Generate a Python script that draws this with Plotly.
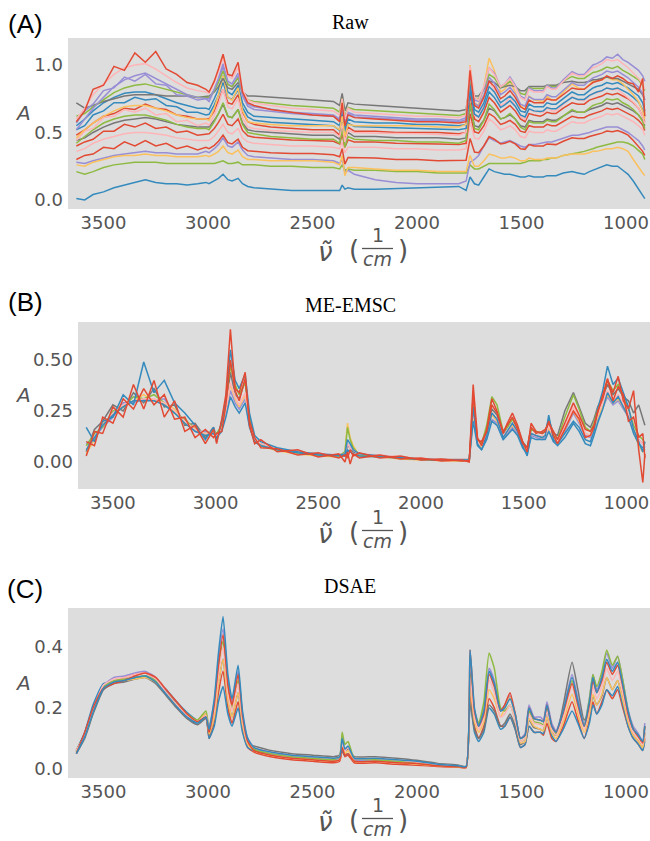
import plotly.graph_objects as go

# wavenumber grid (1/cm), shared by all three panels
wavenumber = [3630, 3590, 3550, 3500, 3450, 3400, 3350, 3300, 3250, 3200, 3150, 3100, 3050, 3010,
              2995, 2970, 2950, 2928, 2905, 2885, 2856, 2835, 2810,
              2780, 2700, 2600, 2500, 2400, 2370, 2358, 2345, 2330, 2300, 2200, 2100, 2000, 1900, 1800, 1765,
              1746, 1725, 1705, 1680, 1655, 1630, 1600, 1580, 1555, 1530, 1505, 1483, 1464, 1440, 1410, 1395,
              1378, 1355, 1335, 1300, 1258, 1230, 1200, 1175, 1158, 1140, 1115, 1092, 1065, 1040, 1015, 990,
              965, 940, 920, 910]

# (A) raw spectra
raw_spectra = [
    [0.01, 0.0, 0.04, 0.06, 0.09, 0.11, 0.13, 0.15, 0.13, 0.12, 0.12, 0.11, 0.12, 0.13,
     0.12, 0.14, 0.16, 0.19, 0.15, 0.14, 0.16, 0.12, 0.10,
     0.09, 0.08, 0.07, 0.07, 0.07, 0.07, 0.11, 0.08, 0.09, 0.08, 0.08, 0.085, 0.09, 0.095, 0.10, 0.07,
     0.17, 0.12, 0.11, 0.17, 0.23, 0.21, 0.20, 0.19, 0.19, 0.18, 0.17, 0.17, 0.18, 0.17, 0.17, 0.17, 0.18, 0.18,
     0.18, 0.20, 0.21, 0.20, 0.19, 0.21, 0.22, 0.23, 0.25, 0.26, 0.25, 0.25, 0.22, 0.19, 0.14, 0.08, 0.03, 0.01],
    [0.21, 0.19, 0.21, 0.24, 0.26, 0.27, 0.28, 0.28, 0.28, 0.27, 0.27, 0.27, 0.27, 0.27,
     0.27, 0.27, 0.28, 0.29, 0.27, 0.27, 0.28, 0.26, 0.26,
     0.26, 0.25, 0.25, 0.24, 0.24, 0.23, 0.26, 0.22, 0.23, 0.22, 0.22, 0.21, 0.21, 0.20, 0.20, 0.20,
     0.26, 0.23, 0.23, 0.25, 0.27, 0.27, 0.27, 0.27, 0.27, 0.27, 0.27, 0.28, 0.29, 0.29, 0.29, 0.30, 0.30, 0.31,
     0.31, 0.33, 0.34, 0.35, 0.36, 0.37, 0.38, 0.39, 0.40, 0.41, 0.42, 0.43, 0.43, 0.42, 0.40, 0.37, 0.34, 0.30],
    [0.28, 0.27, 0.29, 0.31, 0.33, 0.34, 0.35, 0.36, 0.35, 0.35, 0.34, 0.34, 0.34, 0.36,
     0.35, 0.38, 0.41, 0.46, 0.40, 0.39, 0.43, 0.37, 0.33,
     0.32, 0.31, 0.30, 0.30, 0.29, 0.27, 0.30, 0.20, 0.22, 0.19, 0.15, 0.13, 0.12, 0.12, 0.12, 0.14,
     0.28, 0.30, 0.33, 0.40, 0.46, 0.44, 0.42, 0.43, 0.44, 0.42, 0.40, 0.39, 0.41, 0.41, 0.42, 0.42, 0.43, 0.43,
     0.44, 0.46, 0.48, 0.48, 0.49, 0.50, 0.51, 0.52, 0.53, 0.54, 0.54, 0.54, 0.52, 0.50, 0.47, 0.44, 0.40, 0.37],
    [0.26, 0.25, 0.28, 0.30, 0.32, 0.33, 0.33, 0.34, 0.33, 0.33, 0.32, 0.32, 0.32, 0.33,
     0.32, 0.34, 0.36, 0.40, 0.35, 0.34, 0.37, 0.32, 0.30,
     0.30, 0.29, 0.29, 0.29, 0.28, 0.26, 0.33, 0.18, 0.24, 0.24, 0.23, 0.22, 0.22, 0.21, 0.21, 0.21,
     0.33, 0.25, 0.25, 0.29, 0.34, 0.33, 0.31, 0.31, 0.32, 0.31, 0.29, 0.29, 0.31, 0.30, 0.30, 0.30, 0.31, 0.31,
     0.31, 0.33, 0.34, 0.34, 0.34, 0.35, 0.36, 0.36, 0.37, 0.38, 0.38, 0.39, 0.38, 0.36, 0.30, 0.24, 0.20, 0.18],
    [0.30, 0.33, 0.34, 0.39, 0.38, 0.43, 0.40, 0.44, 0.40, 0.42, 0.38, 0.40, 0.37, 0.39,
     0.38, 0.405, 0.435, 0.48, 0.425, 0.415, 0.45, 0.39, 0.365,
     0.36, 0.35, 0.345, 0.345, 0.335, 0.32, 0.38, 0.265, 0.315, 0.315, 0.31, 0.30, 0.30, 0.29, 0.29, 0.295,
     0.455, 0.355, 0.35, 0.40, 0.47, 0.45, 0.415, 0.42, 0.435, 0.415, 0.38, 0.375, 0.41, 0.40, 0.40, 0.40, 0.415,
     0.41, 0.41, 0.435, 0.46, 0.455, 0.455, 0.47, 0.48, 0.485, 0.495, 0.51, 0.505, 0.515, 0.50, 0.48, 0.44, 0.395,
     0.36, 0.33],
    [0.36, 0.38, 0.42, 0.45, 0.47, 0.49, 0.50, 0.50, 0.49, 0.48, 0.46, 0.45, 0.44, 0.44,
     0.44, 0.47, 0.51, 0.56, 0.50, 0.49, 0.53, 0.46, 0.43,
     0.42, 0.41, 0.40, 0.40, 0.39, 0.38, 0.43, 0.35, 0.39, 0.39, 0.39, 0.38, 0.38, 0.37, 0.37, 0.38,
     0.58, 0.46, 0.45, 0.51, 0.60, 0.57, 0.52, 0.53, 0.55, 0.52, 0.47, 0.46, 0.51, 0.50, 0.50, 0.50, 0.52, 0.51,
     0.51, 0.54, 0.58, 0.57, 0.57, 0.59, 0.60, 0.61, 0.62, 0.64, 0.63, 0.64, 0.62, 0.60, 0.58, 0.55, 0.52, 0.48],
    [0.40, 0.43, 0.45, 0.51, 0.51, 0.56, 0.54, 0.57, 0.53, 0.54, 0.50, 0.51, 0.48, 0.49,
     0.49, 0.53, 0.575, 0.635, 0.56, 0.55, 0.60, 0.515, 0.475,
     0.465, 0.455, 0.445, 0.44, 0.435, 0.415, 0.49, 0.39, 0.445, 0.43, 0.43, 0.42, 0.42, 0.415, 0.41, 0.42,
     0.64, 0.505, 0.495, 0.55, 0.64, 0.615, 0.56, 0.57, 0.59, 0.56, 0.51, 0.50, 0.55, 0.54, 0.54, 0.54, 0.56,
     0.55, 0.55, 0.58, 0.62, 0.61, 0.61, 0.63, 0.64, 0.65, 0.66, 0.68, 0.67, 0.68, 0.66, 0.64, 0.62, 0.59,
     0.555, 0.515],
    [0.44, 0.46, 0.50, 0.54, 0.57, 0.59, 0.60, 0.61, 0.60, 0.58, 0.56, 0.55, 0.54, 0.54,
     0.54, 0.59, 0.64, 0.71, 0.62, 0.61, 0.67, 0.57, 0.52,
     0.51, 0.50, 0.49, 0.48, 0.48, 0.45, 0.55, 0.43, 0.50, 0.47, 0.47, 0.46, 0.46, 0.46, 0.45, 0.46,
     0.70, 0.55, 0.54, 0.59, 0.68, 0.66, 0.60, 0.61, 0.63, 0.60, 0.55, 0.54, 0.59, 0.58, 0.58, 0.58, 0.60, 0.59,
     0.59, 0.62, 0.66, 0.65, 0.65, 0.67, 0.68, 0.69, 0.70, 0.72, 0.71, 0.72, 0.70, 0.68, 0.66, 0.63, 0.59, 0.55],
    [0.42, 0.47, 0.52, 0.57, 0.60, 0.62, 0.63, 0.63, 0.61, 0.59, 0.56, 0.54, 0.53, 0.53,
     0.52, 0.58, 0.64, 0.72, 0.62, 0.61, 0.67, 0.56, 0.50,
     0.49, 0.47, 0.46, 0.45, 0.45, 0.42, 0.52, 0.39, 0.47, 0.45, 0.44, 0.44, 0.43, 0.43, 0.42, 0.44,
     0.72, 0.53, 0.52, 0.59, 0.71, 0.67, 0.60, 0.61, 0.64, 0.60, 0.54, 0.52, 0.58, 0.57, 0.57, 0.57, 0.59, 0.58,
     0.58, 0.62, 0.67, 0.65, 0.65, 0.68, 0.70, 0.71, 0.72, 0.75, 0.74, 0.75, 0.72, 0.70, 0.67, 0.63, 0.58, 0.53],
    [0.48, 0.52, 0.57, 0.62, 0.64, 0.68, 0.67, 0.71, 0.68, 0.67, 0.63, 0.62, 0.60, 0.60,
     0.60, 0.66, 0.73, 0.82, 0.72, 0.71, 0.78, 0.65, 0.58,
     0.56, 0.54, 0.53, 0.52, 0.52, 0.48, 0.60, 0.46, 0.54, 0.51, 0.51, 0.50, 0.50, 0.50, 0.49, 0.50,
     0.78, 0.60, 0.58, 0.65, 0.76, 0.72, 0.65, 0.67, 0.70, 0.66, 0.60, 0.58, 0.64, 0.63, 0.62, 0.63, 0.65, 0.64,
     0.64, 0.68, 0.72, 0.71, 0.71, 0.74, 0.75, 0.76, 0.77, 0.79, 0.78, 0.79, 0.77, 0.75, 0.72, 0.68, 0.62, 0.58],
    [0.44, 0.51, 0.53, 0.61, 0.62, 0.67, 0.65, 0.68, 0.63, 0.64, 0.58, 0.59, 0.55, 0.57,
     0.555, 0.63, 0.71, 0.82, 0.69, 0.675, 0.75, 0.61, 0.54,
     0.53, 0.515, 0.505, 0.50, 0.50, 0.47, 0.57, 0.43, 0.515, 0.50, 0.495, 0.495, 0.49, 0.485, 0.48, 0.50,
     0.86, 0.625, 0.61, 0.715, 0.88, 0.815, 0.70, 0.715, 0.76, 0.70, 0.62, 0.595, 0.675, 0.655, 0.65, 0.65, 0.68,
     0.66, 0.66, 0.71, 0.765, 0.74, 0.735, 0.77, 0.79, 0.795, 0.805, 0.83, 0.815, 0.82, 0.79, 0.76, 0.725, 0.68,
     0.62, 0.565],
    [0.52, 0.55, 0.63, 0.66, 0.72, 0.72, 0.76, 0.74, 0.75, 0.70, 0.69, 0.65, 0.65, 0.63,
     0.635, 0.705, 0.775, 0.87, 0.76, 0.745, 0.815, 0.685, 0.615,
     0.59, 0.575, 0.565, 0.555, 0.55, 0.515, 0.635, 0.49, 0.57, 0.545, 0.54, 0.535, 0.53, 0.53, 0.52, 0.53,
     0.82, 0.635, 0.615, 0.685, 0.80, 0.76, 0.685, 0.705, 0.735, 0.695, 0.63, 0.615, 0.675, 0.66, 0.655, 0.66,
     0.685, 0.675, 0.675, 0.715, 0.76, 0.745, 0.745, 0.775, 0.79, 0.80, 0.81, 0.83, 0.82, 0.83, 0.81, 0.79, 0.76,
     0.725, 0.67, 0.62],
    [0.55, 0.60, 0.66, 0.72, 0.76, 0.79, 0.80, 0.80, 0.78, 0.75, 0.72, 0.70, 0.68, 0.68,
     0.67, 0.75, 0.82, 0.92, 0.80, 0.78, 0.85, 0.72, 0.65,
     0.62, 0.61, 0.60, 0.59, 0.58, 0.55, 0.67, 0.52, 0.60, 0.58, 0.57, 0.57, 0.56, 0.56, 0.55, 0.56,
     0.86, 0.67, 0.65, 0.72, 0.84, 0.80, 0.72, 0.74, 0.77, 0.73, 0.66, 0.65, 0.71, 0.69, 0.69, 0.69, 0.72, 0.71,
     0.71, 0.75, 0.80, 0.78, 0.78, 0.81, 0.83, 0.84, 0.85, 0.87, 0.86, 0.87, 0.85, 0.83, 0.80, 0.77, 0.72, 0.66],
    [0.46, 0.52, 0.57, 0.62, 0.66, 0.69, 0.70, 0.70, 0.68, 0.66, 0.63, 0.61, 0.60, 0.60,
     0.59, 0.68, 0.78, 0.92, 0.76, 0.74, 0.83, 0.66, 0.58,
     0.57, 0.56, 0.55, 0.55, 0.55, 0.52, 0.62, 0.47, 0.56, 0.55, 0.55, 0.55, 0.55, 0.54, 0.54, 0.56,
     1.00, 0.72, 0.70, 0.84, 1.05, 0.96, 0.80, 0.82, 0.88, 0.80, 0.70, 0.67, 0.77, 0.74, 0.73, 0.73, 0.77, 0.74,
     0.74, 0.80, 0.86, 0.83, 0.82, 0.86, 0.88, 0.88, 0.89, 0.91, 0.89, 0.89, 0.86, 0.82, 0.78, 0.73, 0.66, 0.60],
    [0.72, 0.68, 0.70, 0.73, 0.75, 0.77, 0.78, 0.78, 0.78, 0.77, 0.77, 0.77, 0.76, 0.77,
     0.77, 0.80, 0.84, 0.90, 0.83, 0.82, 0.87, 0.80, 0.77,
     0.77, 0.76, 0.75, 0.74, 0.73, 0.70, 0.79, 0.66, 0.72, 0.71, 0.70, 0.69, 0.68, 0.67, 0.66, 0.67,
     0.88, 0.77, 0.77, 0.82, 0.88, 0.87, 0.83, 0.84, 0.85, 0.84, 0.81, 0.81, 0.84, 0.84, 0.84, 0.84, 0.85, 0.85,
     0.85, 0.87, 0.88, 0.87, 0.87, 0.88, 0.89, 0.89, 0.90, 0.91, 0.90, 0.90, 0.88, 0.86, 0.84, 0.82, 0.78, 0.74],
    [0.57, 0.66, 0.71, 0.81, 0.83, 0.91, 0.88, 0.93, 0.86, 0.85, 0.78, 0.77, 0.74, 0.75,
     0.73, 0.81, 0.885, 0.985, 0.86, 0.84, 0.915, 0.77, 0.695,
     0.67, 0.655, 0.64, 0.63, 0.62, 0.59, 0.71, 0.56, 0.64, 0.615, 0.605, 0.60, 0.59, 0.59, 0.58, 0.595,
     0.925, 0.715, 0.695, 0.78, 0.91, 0.865, 0.78, 0.80, 0.835, 0.785, 0.71, 0.695, 0.765, 0.745, 0.745, 0.745,
     0.78, 0.765, 0.765, 0.815, 0.87, 0.85, 0.85, 0.885, 0.905, 0.915, 0.93, 0.955, 0.945, 0.955, 0.93, 0.905,
     0.87, 0.835, 0.79, 0.74],
    [0.62, 0.64, 0.69, 0.745, 0.795, 0.83, 0.85, 0.86, 0.84, 0.815, 0.795, 0.775, 0.76, 0.76,
     0.76, 0.81, 0.87, 0.955, 0.855, 0.84, 0.905, 0.795, 0.74,
     0.73, 0.715, 0.70, 0.69, 0.68, 0.65, 0.75, 0.615, 0.685, 0.67, 0.66, 0.65, 0.64, 0.635, 0.625, 0.64,
     0.905, 0.755, 0.75, 0.825, 0.93, 0.905, 0.835, 0.85, 0.88, 0.845, 0.79, 0.78, 0.835, 0.825, 0.825, 0.825,
     0.85, 0.84, 0.84, 0.88, 0.915, 0.90, 0.90, 0.925, 0.945, 0.95, 0.965, 0.985, 0.975, 0.99, 0.96, 0.94,
     0.915, 0.89, 0.85, 0.81],
    [0.52, 0.60, 0.68, 0.76, 0.84, 0.89, 0.92, 0.94, 0.90, 0.86, 0.82, 0.78, 0.76, 0.75,
     0.75, 0.82, 0.90, 1.01, 0.88, 0.86, 0.94, 0.79, 0.71,
     0.69, 0.67, 0.65, 0.64, 0.63, 0.60, 0.71, 0.57, 0.65, 0.63, 0.62, 0.61, 0.60, 0.60, 0.59, 0.61,
     0.93, 0.74, 0.73, 0.83, 0.98, 0.94, 0.84, 0.86, 0.91, 0.85, 0.77, 0.75, 0.83, 0.81, 0.81, 0.81, 0.85, 0.83,
     0.83, 0.89, 0.95, 0.93, 0.93, 0.97, 1.00, 1.01, 1.03, 1.06, 1.05, 1.08, 1.04, 1.02, 0.99, 0.96, 0.92, 0.88],
    [0.60, 0.68, 0.78, 0.86, 0.93, 0.98, 1.00, 1.01, 0.97, 0.92, 0.87, 0.83, 0.81, 0.80,
     0.79, 0.87, 0.95, 1.05, 0.92, 0.90, 0.98, 0.82, 0.74,
     0.72, 0.70, 0.68, 0.67, 0.66, 0.63, 0.75, 0.60, 0.68, 0.65, 0.64, 0.63, 0.62, 0.62, 0.61, 0.63,
     0.99, 0.76, 0.74, 0.84, 0.98, 0.93, 0.84, 0.86, 0.90, 0.84, 0.76, 0.74, 0.82, 0.80, 0.80, 0.80, 0.84, 0.82,
     0.82, 0.88, 0.94, 0.92, 0.92, 0.96, 0.98, 0.99, 1.01, 1.04, 1.03, 1.04, 1.01, 0.98, 0.94, 0.90, 0.86, 0.82],
    [0.58, 0.66, 0.82, 0.85, 0.99, 0.96, 1.09, 1.02, 1.10, 0.97, 0.93, 0.87, 0.85, 0.82,
     0.80, 0.88, 0.97, 1.08, 0.93, 0.92, 1.02, 0.80, 0.72,
     0.70, 0.67, 0.65, 0.63, 0.62, 0.58, 0.72, 0.55, 0.63, 0.61, 0.60, 0.59, 0.58, 0.58, 0.57, 0.58,
     0.96, 0.70, 0.68, 0.76, 0.88, 0.84, 0.75, 0.77, 0.81, 0.76, 0.69, 0.67, 0.74, 0.72, 0.72, 0.72, 0.75, 0.74,
     0.74, 0.78, 0.83, 0.82, 0.82, 0.85, 0.87, 0.88, 0.89, 0.92, 0.90, 0.92, 0.90, 0.87, 0.86, 0.80, 0.90, 0.62],
]

# (B) ME-EMSC corrected spectra
emsc_spectra = [
    [0.05, 0.16, 0.20, 0.28, 0.25, 0.34, 0.29, 0.36, 0.27, 0.28, 0.18, 0.19, 0.12, 0.17,
     0.12, 0.19, 0.26, 0.44, 0.33, 0.31, 0.40, 0.21, 0.10,
     0.09, 0.055, 0.05, 0.03, 0.035, 0.03, 0.08, 0.07, 0.05, 0.04, 0.03, 0.025, 0.015, 0.012, 0.01, 0.012,
     0.24, 0.11, 0.09, 0.15, 0.26, 0.23, 0.14, 0.17, 0.21, 0.17, 0.10, 0.07, 0.16, 0.15, 0.14, 0.15, 0.21, 0.14,
     0.13, 0.25, 0.34, 0.27, 0.19, 0.17, 0.21, 0.27, 0.32, 0.38, 0.33, 0.36, 0.32, 0.30, 0.24, 0.28, 0.22, 0.18],
    [0.09, 0.12, 0.17, 0.22, 0.29, 0.29, 0.31, 0.30, 0.31, 0.24, 0.21, 0.15, 0.15, 0.14,
     0.13, 0.16, 0.23, 0.35, 0.29, 0.26, 0.31, 0.18, 0.10,
     0.08, 0.06, 0.045, 0.035, 0.03, 0.04, 0.09, 0.07, 0.06, 0.035, 0.03, 0.02, 0.012, 0.01, 0.008, 0.01,
     0.22, 0.09, 0.07, 0.12, 0.21, 0.19, 0.11, 0.14, 0.17, 0.14, 0.08, 0.05, 0.13, 0.12, 0.11, 0.12, 0.16, 0.10,
     0.09, 0.15, 0.24, 0.19, 0.13, 0.12, 0.16, 0.21, 0.26, 0.32, 0.28, 0.30, 0.26, 0.22, 0.15, 0.11, 0.09, 0.07],
    [0.04, 0.11, 0.19, 0.23, 0.27, 0.30, 0.33, 0.30, 0.29, 0.26, 0.19, 0.17, 0.13, 0.16,
     0.12, 0.17, 0.25, 0.38, 0.31, 0.27, 0.33, 0.19, 0.10,
     0.08, 0.055, 0.04, 0.03, 0.025, 0.05, 0.19, 0.12, 0.08, 0.03, 0.025, 0.015, 0.01, 0.006, 0.004, 0.005,
     0.23, 0.09, 0.07, 0.13, 0.23, 0.20, 0.12, 0.15, 0.18, 0.15, 0.08, 0.05, 0.14, 0.13, 0.12, 0.13, 0.17, 0.11,
     0.09, 0.16, 0.25, 0.20, 0.14, 0.13, 0.16, 0.22, 0.27, 0.33, 0.29, 0.31, 0.27, 0.22, 0.15, 0.08, 0.05, 0.06],
    [0.08, 0.14, 0.17, 0.25, 0.27, 0.32, 0.31, 0.33, 0.29, 0.24, 0.21, 0.16, 0.14, 0.15,
     0.14, 0.18, 0.30, 0.47, 0.38, 0.33, 0.39, 0.22, 0.11,
     0.08, 0.06, 0.045, 0.035, 0.03, 0.05, 0.17, 0.11, 0.07, 0.035, 0.03, 0.02, 0.012, 0.01, 0.008, 0.01,
     0.28, 0.11, 0.09, 0.18, 0.32, 0.28, 0.15, 0.17, 0.21, 0.17, 0.09, 0.06, 0.16, 0.15, 0.14, 0.15, 0.20, 0.13,
     0.11, 0.22, 0.33, 0.26, 0.17, 0.15, 0.19, 0.26, 0.32, 0.40, 0.35, 0.38, 0.32, 0.26, 0.18, 0.13, 0.11, 0.09],
    [0.06, 0.12, 0.18, 0.24, 0.28, 0.30, 0.31, 0.31, 0.29, 0.25, 0.20, 0.16, 0.14, 0.15,
     0.13, 0.16, 0.25, 0.39, 0.32, 0.28, 0.34, 0.19, 0.11,
     0.09, 0.065, 0.05, 0.04, 0.035, 0.04, 0.09, 0.07, 0.06, 0.04, 0.035, 0.025, 0.015, 0.012, 0.01, 0.012,
     0.25, 0.10, 0.08, 0.13, 0.24, 0.21, 0.13, 0.15, 0.19, 0.15, 0.09, 0.06, 0.14, 0.13, 0.13, 0.13, 0.18, 0.12,
     0.10, 0.17, 0.27, 0.21, 0.14, 0.13, 0.17, 0.23, 0.29, 0.35, 0.30, 0.33, 0.29, 0.24, 0.16, 0.11, 0.09, 0.08],
    [0.17, 0.10, 0.20, 0.22, 0.33, 0.28, 0.49, 0.34, 0.40, 0.29, 0.24, 0.18, 0.11, 0.17,
     0.10, 0.20, 0.31, 0.55, 0.40, 0.36, 0.43, 0.24, 0.13,
     0.10, 0.07, 0.05, 0.04, 0.035, 0.04, 0.11, 0.09, 0.06, 0.04, 0.03, 0.02, 0.012, 0.01, 0.008, 0.01,
     0.27, 0.09, 0.06, 0.13, 0.24, 0.21, 0.12, 0.15, 0.19, 0.15, 0.08, 0.03, 0.14, 0.13, 0.12, 0.13, 0.23, 0.11,
     0.09, 0.14, 0.20, 0.17, 0.11, 0.10, 0.15, 0.26, 0.35, 0.47, 0.38, 0.41, 0.34, 0.27, 0.16, 0.10, 0.05, 0.10],
    [0.06, 0.12, 0.18, 0.23, 0.27, 0.30, 0.30, 0.30, 0.28, 0.24, 0.19, 0.15, 0.13, 0.14,
     0.12, 0.15, 0.22, 0.32, 0.27, 0.24, 0.29, 0.17, 0.10,
     0.08, 0.06, 0.045, 0.035, 0.03, 0.03, 0.06, 0.05, 0.04, 0.03, 0.025, 0.02, 0.012, 0.01, 0.008, 0.01,
     0.20, 0.08, 0.06, 0.11, 0.20, 0.18, 0.11, 0.13, 0.16, 0.13, 0.07, 0.04, 0.12, 0.11, 0.11, 0.11, 0.15, 0.10,
     0.08, 0.12, 0.19, 0.15, 0.09, 0.08, 0.13, 0.19, 0.26, 0.34, 0.29, 0.32, 0.27, 0.22, 0.14, 0.09, 0.07, 0.06],
    [0.03, 0.15, 0.14, 0.27, 0.22, 0.38, 0.26, 0.40, 0.22, 0.30, 0.15, 0.18, 0.09, 0.16,
     0.09, 0.21, 0.33, 0.65, 0.36, 0.34, 0.44, 0.18, 0.09,
     0.11, 0.05, 0.06, 0.025, 0.04, 0.0, 0.05, -0.01, 0.04, 0.02, 0.035, 0.015, 0.02, 0.005, 0.01, 0.0,
     0.38, 0.12, 0.08, 0.16, 0.31, 0.25, 0.14, 0.19, 0.24, 0.18, 0.10, 0.05, 0.19, 0.15, 0.14, 0.15, 0.20, 0.13,
     0.09, 0.16, 0.25, 0.21, 0.12, 0.13, 0.17, 0.25, 0.31, 0.40, 0.34, 0.42, 0.30, 0.26, 0.35, 0.06, -0.10, 0.04],
    [0.10, 0.08, 0.22, 0.19, 0.31, 0.26, 0.36, 0.28, 0.33, 0.21, 0.22, 0.12, 0.16, 0.12,
     0.14, 0.15, 0.28, 0.50, 0.35, 0.30, 0.41, 0.20, 0.12,
     0.07, 0.065, 0.035, 0.045, 0.02, 0.035, 0.02, 0.06, 0.03, 0.045, 0.02, 0.03, 0.01, 0.015, 0.005, 0.008,
     0.33, 0.11, 0.10, 0.15, 0.28, 0.24, 0.15, 0.18, 0.22, 0.16, 0.09, 0.07, 0.17, 0.14, 0.15, 0.16, 0.19, 0.15,
     0.11, 0.19, 0.29, 0.23, 0.16, 0.15, 0.18, 0.24, 0.33, 0.41, 0.30, 0.37, 0.33, 0.20, 0.22, 0.12, 0.14, 0.02],
]

# (C) DSAE reconstructed spectra
dsae_spectra = [
    [0.06, 0.115, 0.195, 0.27, 0.285, 0.30, 0.31, 0.315, 0.295, 0.255, 0.215, 0.18, 0.16, 0.18,
     0.10, 0.15, 0.25, 0.32, 0.20, 0.15, 0.22, 0.13, 0.07,
     0.055, 0.04, 0.03, 0.025, 0.02, 0.025, 0.06, 0.04, 0.045, 0.02, 0.02, 0.015, 0.012, 0.008, 0.005, 0.004,
     0.24, 0.14, 0.10, 0.14, 0.23, 0.20, 0.14, 0.14, 0.17, 0.13, 0.07, 0.08, 0.14, 0.12, 0.12, 0.11, 0.15, 0.10,
     0.09, 0.14, 0.22, 0.16, 0.10, 0.16, 0.22, 0.18, 0.22, 0.26, 0.23, 0.26, 0.20, 0.14, 0.10, 0.08, 0.06, 0.10],
    [0.06, 0.12, 0.21, 0.28, 0.285, 0.29, 0.30, 0.305, 0.29, 0.26, 0.22, 0.185, 0.16, 0.17,
     0.10, 0.14, 0.22, 0.27, 0.18, 0.14, 0.20, 0.12, 0.07,
     0.06, 0.05, 0.045, 0.04, 0.035, 0.035, 0.06, 0.045, 0.05, 0.03, 0.03, 0.025, 0.02, 0.012, 0.008, 0.006,
     0.22, 0.12, 0.09, 0.12, 0.20, 0.18, 0.13, 0.14, 0.17, 0.13, 0.07, 0.08, 0.14, 0.12, 0.12, 0.115, 0.20, 0.11,
     0.09, 0.13, 0.19, 0.15, 0.10, 0.15, 0.21, 0.18, 0.21, 0.26, 0.24, 0.27, 0.21, 0.14, 0.10, 0.08, 0.06, 0.09],
    [0.055, 0.11, 0.19, 0.275, 0.30, 0.305, 0.315, 0.32, 0.30, 0.255, 0.21, 0.175, 0.155, 0.175,
     0.14, 0.22, 0.36, 0.46, 0.29, 0.22, 0.32, 0.18, 0.10,
     0.07, 0.05, 0.04, 0.035, 0.03, 0.035, 0.09, 0.06, 0.07, 0.03, 0.03, 0.025, 0.02, 0.012, 0.008, 0.006,
     0.32, 0.19, 0.15, 0.195, 0.33, 0.29, 0.195, 0.21, 0.24, 0.18, 0.10, 0.115, 0.21, 0.17, 0.17, 0.16, 0.22, 0.15,
     0.125, 0.195, 0.31, 0.23, 0.15, 0.23, 0.31, 0.26, 0.31, 0.38, 0.33, 0.37, 0.29, 0.195, 0.14, 0.115, 0.09, 0.15],
    [0.05, 0.10, 0.18, 0.26, 0.28, 0.285, 0.295, 0.30, 0.28, 0.24, 0.20, 0.165, 0.145, 0.165,
     0.11, 0.17, 0.28, 0.36, 0.225, 0.17, 0.25, 0.145, 0.08,
     0.075, 0.06, 0.05, 0.045, 0.04, 0.045, 0.08, 0.06, 0.065, 0.04, 0.04, 0.035, 0.028, 0.018, 0.012, 0.008,
     0.22, 0.13, 0.10, 0.13, 0.21, 0.19, 0.14, 0.15, 0.18, 0.14, 0.08, 0.09, 0.16, 0.135, 0.13, 0.125, 0.17, 0.12,
     0.11, 0.21, 0.35, 0.26, 0.16, 0.19, 0.24, 0.21, 0.24, 0.30, 0.26, 0.29, 0.225, 0.155, 0.11, 0.09, 0.07, 0.12],
    [0.06, 0.11, 0.19, 0.27, 0.285, 0.29, 0.295, 0.30, 0.285, 0.25, 0.21, 0.175, 0.16, 0.18,
     0.115, 0.17, 0.28, 0.36, 0.225, 0.17, 0.25, 0.145, 0.08,
     0.06, 0.045, 0.035, 0.03, 0.025, 0.03, 0.075, 0.05, 0.06, 0.025, 0.025, 0.02, 0.016, 0.01, 0.006, 0.005,
     0.27, 0.155, 0.12, 0.155, 0.26, 0.23, 0.17, 0.20, 0.235, 0.18, 0.085, 0.09, 0.165, 0.14, 0.13, 0.125, 0.17, 0.12,
     0.10, 0.155, 0.245, 0.18, 0.12, 0.18, 0.245, 0.21, 0.245, 0.30, 0.26, 0.29, 0.225, 0.155, 0.11, 0.09, 0.07, 0.115],
    [0.055, 0.11, 0.19, 0.27, 0.29, 0.295, 0.30, 0.305, 0.29, 0.25, 0.21, 0.18, 0.16, 0.19,
     0.13, 0.20, 0.33, 0.42, 0.26, 0.20, 0.29, 0.17, 0.09,
     0.065, 0.05, 0.04, 0.035, 0.03, 0.04, 0.12, 0.08, 0.09, 0.035, 0.03, 0.025, 0.02, 0.012, 0.008, 0.006,
     0.31, 0.19, 0.15, 0.22, 0.38, 0.33, 0.20, 0.19, 0.21, 0.16, 0.09, 0.10, 0.19, 0.155, 0.15, 0.145, 0.20, 0.135,
     0.115, 0.18, 0.29, 0.21, 0.14, 0.23, 0.31, 0.27, 0.32, 0.39, 0.34, 0.37, 0.29, 0.19, 0.13, 0.105, 0.085, 0.14],
    [0.06, 0.11, 0.195, 0.275, 0.295, 0.30, 0.31, 0.315, 0.295, 0.25, 0.21, 0.175, 0.155, 0.175,
     0.125, 0.19, 0.31, 0.40, 0.25, 0.19, 0.28, 0.16, 0.085,
     0.07, 0.055, 0.045, 0.04, 0.035, 0.04, 0.085, 0.06, 0.07, 0.035, 0.035, 0.03, 0.022, 0.014, 0.009, 0.007,
     0.30, 0.17, 0.13, 0.17, 0.29, 0.25, 0.17, 0.18, 0.21, 0.16, 0.09, 0.10, 0.18, 0.15, 0.145, 0.14, 0.19, 0.13,
     0.11, 0.17, 0.27, 0.20, 0.13, 0.20, 0.27, 0.23, 0.27, 0.33, 0.29, 0.32, 0.25, 0.17, 0.12, 0.10, 0.08, 0.13],
    [0.05, 0.12, 0.20, 0.265, 0.28, 0.29, 0.305, 0.315, 0.30, 0.26, 0.22, 0.18, 0.155, 0.17,
     0.12, 0.21, 0.34, 0.44, 0.275, 0.21, 0.31, 0.175, 0.09,
     0.06, 0.045, 0.035, 0.03, 0.025, 0.03, 0.07, 0.045, 0.05, 0.025, 0.025, 0.02, 0.018, 0.01, 0.007, 0.005,
     0.39, 0.19, 0.14, 0.18, 0.31, 0.27, 0.19, 0.21, 0.25, 0.18, 0.10, 0.11, 0.20, 0.165, 0.16, 0.155, 0.21, 0.14,
     0.12, 0.185, 0.28, 0.21, 0.14, 0.21, 0.29, 0.25, 0.29, 0.35, 0.31, 0.34, 0.27, 0.18, 0.13, 0.105, 0.085, 0.14],
    [0.05, 0.105, 0.185, 0.265, 0.285, 0.29, 0.30, 0.305, 0.285, 0.245, 0.205, 0.17, 0.15, 0.17,
     0.13, 0.23, 0.38, 0.50, 0.31, 0.23, 0.34, 0.19, 0.10,
     0.07, 0.055, 0.045, 0.04, 0.035, 0.04, 0.10, 0.065, 0.075, 0.035, 0.035, 0.03, 0.025, 0.015, 0.01, 0.008,
     0.39, 0.20, 0.14, 0.19, 0.32, 0.28, 0.19, 0.20, 0.23, 0.18, 0.10, 0.11, 0.20, 0.165, 0.16, 0.155, 0.21, 0.14,
     0.12, 0.19, 0.30, 0.22, 0.14, 0.22, 0.30, 0.25, 0.30, 0.36, 0.32, 0.35, 0.275, 0.19, 0.13, 0.11, 0.09, 0.14],
]

# ggplot-style colour cycle
RED, BLUE, PURPLE, GRAY = '#E24A33', '#348ABD', '#988ED5', '#777777'
YELLOW, GREEN, PINK = '#FBC15E', '#8EBA42', '#FFB5B8'

raw_colors = [BLUE, GREEN, PURPLE, YELLOW, RED, PINK, RED, GRAY, GREEN, RED, PINK,
              BLUE, BLUE, YELLOW, GRAY, PURPLE, GREEN, PURPLE, PINK, RED]
emsc_colors = [GRAY, PURPLE, YELLOW, GREEN, PINK, BLUE, BLUE, RED, RED]
dsae_colors = [RED, BLUE, PURPLE, GRAY, YELLOW, GREEN, PINK, RED, BLUE]

W, H = 650, 841


def px(x):
    return x / W


def py(y):
    return 1 - y / H


# plot boxes in pixels and per-panel text positions
panels = [
    dict(title='Raw', label='(A)', data=raw_spectra, colors=raw_colors,
         left=68, top=38, bottom=209, yrange=[-0.067, 1.2],
         tickvals=[0.0, 0.5, 1.0], ticktext=['0.0', '0.5', '1.0'], shape='linear',
         label_y=24, title_y=22, ylab_y=113, dy=0),
    dict(title='ME-EMSC', label='(B)', data=emsc_spectra, colors=emsc_colors,
         left=78, top=322, bottom=489, yrange=[-0.132, 0.686],
         tickvals=[0.0, 0.25, 0.5], ticktext=['0.00', '0.25', '0.50'], shape='linear',
         label_y=302, title_y=305, ylab_y=395, dy=282),
    dict(title='DSAE', label='(C)', data=dsae_spectra, colors=dsae_colors,
         left=68, top=608, bottom=778, yrange=[-0.03, 0.528],
         tickvals=[0.0, 0.2, 0.4], ticktext=['0.0', '0.2', '0.4'], shape='spline',
         label_y=589, title_y=586, ylab_y=683, dy=570),
]

fig = go.Figure()
tick_font = dict(family='DejaVu Sans', size=18, color='#555555')
annotations = []
shapes = []

for i, p in enumerate(panels):
    n = i + 1
    xa = 'x' if n == 1 else 'x%d' % n
    ya = 'y' if n == 1 else 'y%d' % n
    for spec, col in zip(p['data'], p['colors']):
        assert len(spec) == len(wavenumber)
        fig.add_trace(go.Scatter(
            x=wavenumber, y=spec, mode='lines', xaxis=xa, yaxis=ya,
            line=dict(color=col, width=1.5, shape=p['shape'], smoothing=0.5),
            showlegend=False, hoverinfo='skip'))

    xkey = 'xaxis' if n == 1 else 'xaxis%d' % n
    ykey = 'yaxis' if n == 1 else 'yaxis%d' % n
    fig.update_layout({
        xkey: dict(domain=[px(p['left']), 1], anchor=ya, range=[3670, 885],
                   tickvals=[3500, 3000, 2500, 2000, 1500, 1000],
                   ticktext=['3500', '3000', '2500', '2000', '1500', '1000'],
                   showgrid=False, zeroline=False, showline=False, ticks='',
                   ticklabelstandoff=1, ticklabeloverflow='allow', tickfont=tick_font),
        ykey: dict(domain=[py(p['bottom']), py(p['top'])], anchor=xa, range=p['yrange'],
                   tickvals=p['tickvals'], ticktext=p['ticktext'],
                   showgrid=False, zeroline=False, showline=False, ticks='',
                   ticklabelstandoff=4, tickfont=tick_font),
    })

    # panel letter, title, y label
    annotations.append(dict(text=p['label'], x=px(25), y=py(p['label_y']), xref='paper', yref='paper',
                            showarrow=False, xanchor='center', yanchor='middle',
                            font=dict(family='Liberation Sans', size=26, color='black')))
    annotations.append(dict(text=p['title'], x=px(350), y=py(p['title_y']), xref='paper', yref='paper',
                            showarrow=False, xanchor='center', yanchor='middle',
                            font=dict(family='Liberation Serif', size=20, color='black')))
    annotations.append(dict(text='<i>A</i>', x=px(23), y=py(p['ylab_y']), xref='paper', yref='paper',
                            showarrow=False, xanchor='center', yanchor='middle',
                            font=dict(family='DejaVu Sans', size=20, color='#555555')))

    # x label: nu-tilde (1/cm) built as a fraction
    dy = p['dy']
    lab_font = dict(family='DejaVu Sans', color='#555555')
    parts = [
        ('<i>\u03bd\u0303</i>', 325, 252, 26),
        ('(', 354, 250, 26),
        ('1', 378, 235, 19),
        ('<i>cm</i>', 377, 259, 19),
        (')', 403, 250, 26),
    ]
    for txt, x, y, sz in parts:
        annotations.append(dict(text=txt, x=px(x), y=py(y + dy), xref='paper', yref='paper',
                                showarrow=False, xanchor='center', yanchor='middle',
                                font=dict(lab_font, size=sz)))
    shapes.append(dict(type='line', xref='paper', yref='paper',
                       x0=px(362), x1=px(393), y0=py(248.5 + dy), y1=py(248.5 + dy),
                       line=dict(color='#555555', width=1.3)))

fig.update_layout(
    width=W, height=H,
    margin=dict(l=0, r=0, t=0, b=0),
    paper_bgcolor='white',
    plot_bgcolor='#DDDDDD',
    annotations=annotations,
    shapes=shapes,
    showlegend=False,
)

# the page's default body margin would push the figure 8px right and down
fig.write_html('out.html', config={'displayModeBar': False},
               post_script="document.body.style.margin='0';")
